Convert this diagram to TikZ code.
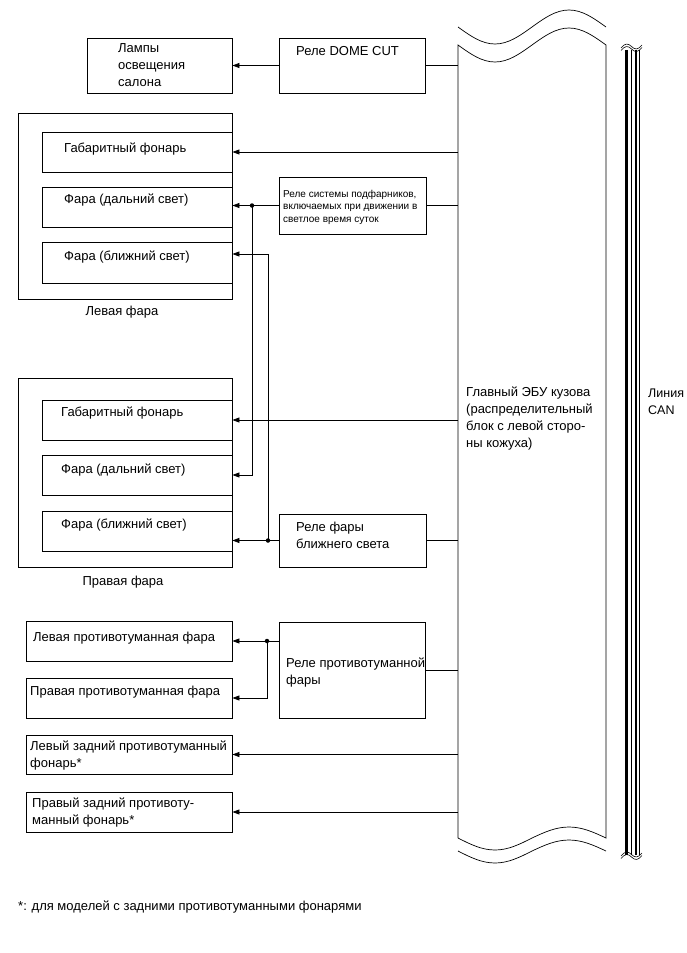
\documentclass[tikz,border=0pt]{standalone}
\usepackage{fontspec}
\setmainfont{Liberation Sans}
\usetikzlibrary{arrows.meta,calc}
\begin{document}
\begin{tikzpicture}[x=1pt,y=-1pt,
  box/.style={draw,line width=0.8pt,inner sep=0pt},
  txt/.style={anchor=north west,inner sep=0pt,align=left,font=\fontsize{13}{17}\selectfont},
  smalltxt/.style={anchor=north west,inner sep=0pt,align=left,font=\fontsize{10}{12.5}\selectfont},
  ctxt/.style={inner sep=0pt,font=\fontsize{13}{17}\selectfont},
  wire/.style={line width=0.8pt},
  conn/.style={wire,-{Triangle[length=7pt,width=5pt]}},
  dot/.style={circle,fill,inner sep=0pt,minimum size=4.5pt},
  eculine/.style={line width=0.7pt},
  tilde/.style={line width=0.6pt},
]
\useasboundingbox (0,0) rectangle (686,953);
% boxes
\node[box,minimum width=145pt,minimum height=55pt] (lamps) at (159.5,65.5) {};
\node[box,minimum width=146pt,minimum height=55pt] (dome) at (352,65.5) {};
\node[box,minimum width=214pt,minimum height=186pt] (lhout) at (125,206) {};
\node[box,minimum width=190pt,minimum height=40pt] (lh1) at (137,152) {};
\node[box,minimum width=190pt,minimum height=40pt] (lh2) at (137,207) {};
\node[box,minimum width=190pt,minimum height=41pt] (lh3) at (137,262.5) {};
\node[box,minimum width=214pt,minimum height=189pt] (rhout) at (125,472.5) {};
\node[box,minimum width=190pt,minimum height=40pt] (rh1) at (137,420) {};
\node[box,minimum width=190pt,minimum height=40pt] (rh2) at (137,475) {};
\node[box,minimum width=190pt,minimum height=40pt] (rh3) at (137,531) {};
\node[box,minimum width=147pt,minimum height=57pt] (drl) at (352.5,205.5) {};
\node[box,minimum width=147pt,minimum height=53pt] (lbr) at (352.5,540.5) {};
\node[box,minimum width=146pt,minimum height=96pt] (fogr) at (352,670) {};
\node[box,minimum width=206pt,minimum height=40pt] (fogl) at (129,641) {};
\node[box,minimum width=206pt,minimum height=40pt] (fogrr) at (129,698) {};
\node[box,minimum width=206pt,minimum height=39pt] (rearl) at (129,754.5) {};
\node[box,minimum width=206pt,minimum height=40pt] (rearr) at (129,812) {};
% texts
\node[txt] (tlamps) at (118,43) {Лампы\\освещения\\салона};
\node[txt] (tdome) at (296,46) {Реле DOME CUT};
\node[txt] (tlh1) at (64,143) {Габаритный фонарь};
\node[txt] (tlh2) at (64,194) {Фара (дальний свет)};
\node[txt] (tlh3) at (64,251) {Фара (ближний свет)};
\node[txt] (trh1) at (61,407) {Габаритный фонарь};
\node[txt] (trh2) at (61,464) {Фара (дальний свет)};
\node[txt] (trh3) at (61,519) {Фара (ближний свет)};
\node[smalltxt] (tdrl) at (283,190) {Реле системы подфарников,\\включаемых при движении в\\светлое время суток};
\node[txt] (tlbr) at (296,522) {Реле фары\\ближнего света};
\node[txt] (tfogr) at (286,658) {Реле противотуманной\\фары};
\node[txt] (tfogl) at (33,632) {Левая противотуманная фара};
\node[txt] (tfogrr) at (30,686) {Правая противотуманная фара};
\node[txt] (trearl) at (30,741) {Левый задний противотуманный\\фонарь*};
\node[txt] (trearr) at (32,798) {Правый задний противоту-\\манный фонарь*};
\node[txt] (tecu) at (466,387) {Главный ЭБУ кузова\\(распределительный\\блок с левой сторо-\\ны кожуха)};
\node[txt,font=\fontsize{12.5}{17}\selectfont] (tcan) at (648,389) {Линия\\CAN};
\node[ctxt] (tlh) at (122,312) {Левая фара};
\node[ctxt] (trh) at (123,582) {Правая фара};
\node[ctxt,anchor=west] (tnote) at (18,907) {*: для моделей с задними противотуманными фонарями};
% ECU
\coordinate (ecuL) at (458,45);
\draw[eculine] (458,838) -- (458,45) sin (495,62) cos (532,45) sin (569,28) cos (606,45)
  -- (606,838) sin (569,827) cos (532,838) sin (495,850) cos (458,838);
\draw[eculine] (458,27) sin (495,44) cos (532,27) sin (569,10) cos (606,27);
\draw[eculine] (458,851) sin (495,863) cos (532,851) sin (569,840) cos (606,851);
% CAN
\foreach \x/\w in {626.5/2.2, 631.5/1.0, 635.7/2.2, 639.5/0.8}
  \draw[line width=\w pt] (\x,50) -- (\x,855);
\draw[tilde] (621,48) .. controls (625,43) and (628,43) .. (631.5,46.5) .. controls (635,50) and (638,50) .. (642,45);
\draw[tilde] (621,50.5) .. controls (625,45.5) and (628,45.5) .. (631.5,49) .. controls (635,52.5) and (638,52.5) .. (642,47.5);
\draw[tilde] (621,856) .. controls (625,851) and (628,851) .. (631.5,854.5) .. controls (635,858) and (638,858) .. (642,853);
\draw[tilde] (621,858.5) .. controls (625,853.5) and (628,853.5) .. (631.5,857) .. controls (635,860.5) and (638,860.5) .. (642,855.5);
% wires
\coordinate (xa) at (252,0);
\coordinate (xb) at (268,0);
\coordinate (xc) at (267,0);
\draw[conn] (dome.west) -- (lamps.east);
\draw[wire] (dome.east) -- (dome.east -| ecuL);
\draw[conn] (lh1.east -| ecuL) -- (lh1.east);
\draw[conn] (drl.west) -- (drl.west -| lh2.east);
\draw[wire] (drl.east) -- (drl.east -| ecuL);
\draw[conn] (drl.west -| xa) |- (rh2.east);
\node[dot] (j1) at (drl.west -| xa) {};
\coordinate (lh3in) at ($(lh3.east)+(0,-8.5)$);
\draw[conn] (lbr.west -| xb) |- (lh3in);
\node[dot] (j2) at (lbr.west -| xb) {};
\draw[conn] (lbr.west) -- (lbr.west -| rh3.east);
\draw[wire] (lbr.east) -- (lbr.east -| ecuL);
\draw[conn] (rh1.east -| ecuL) -- (rh1.east);
\draw[conn] (fogl.east -| fogr.west) -- (fogl.east);
\draw[conn] (fogl.east -| xc) |- (fogrr.east);
\node[dot] (j3) at (fogl.east -| xc) {};
\draw[wire] (fogr.east) -- (fogr.east -| ecuL);
\draw[conn] (rearl.east -| ecuL) -- (rearl.east);
\draw[conn] (rearr.east -| ecuL) -- (rearr.east);
\end{tikzpicture}
\end{document}
